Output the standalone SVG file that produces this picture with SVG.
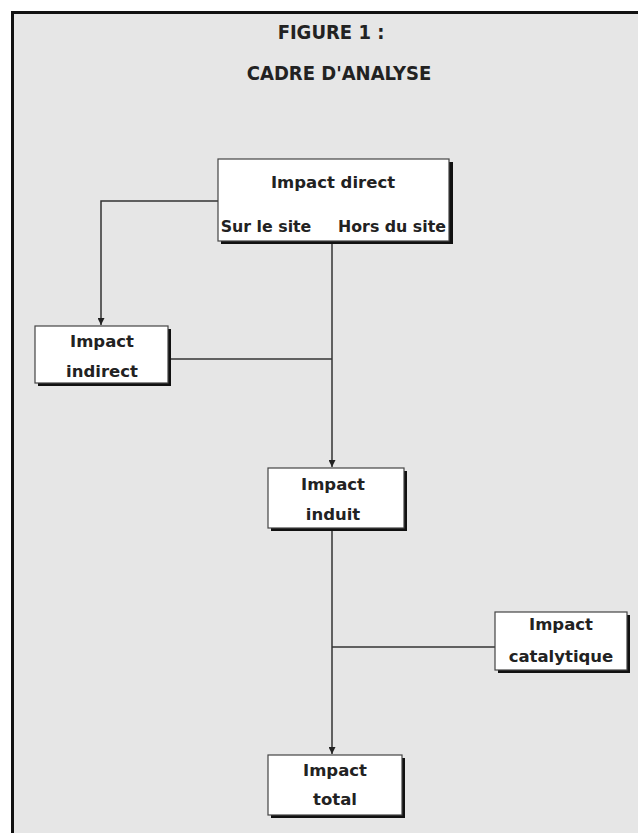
<svg xmlns="http://www.w3.org/2000/svg" width="638" height="833" viewBox="0 0 638 833">
<defs>
<marker id="arr" viewBox="0 0 10 10" refX="10" refY="5" markerWidth="7" markerHeight="7" markerUnits="userSpaceOnUse" orient="auto">
<path d="M0,0 L10,5 L0,10 z" fill="#222"/>
</marker>
</defs>
<style>
.frame{fill:#e6e6e6;stroke:#111;stroke-width:3}
.shadow{fill:#111}
.box{fill:#fff;stroke:#444;stroke-width:1.2}
.t{font-family:"DejaVu Sans",Verdana,sans-serif;font-weight:bold;fill:#222;text-anchor:middle}
.title{font-size:20px;font-stretch:condensed}
.lbl{font-size:16.5px}
.sub{font-size:15.8px}
.c{fill:none;stroke:#333;stroke-width:1.5}
</style>
<rect width="638" height="833" fill="#fff"/>
<rect class="frame" x="12.5" y="12.5" width="660" height="860"/>
<g id="title">
<text class="t title" x="331" y="39">FIGURE 1 :</text>
<text class="t title" x="339" y="80">CADRE D'ANALYSE</text>
</g>
<g id="connectors">
<path class="c" d="M218,201 H101 V325" marker-end="url(#arr)"/>
<path class="c" d="M332,244 V467" marker-end="url(#arr)"/>
<path class="c" d="M171,359 H332"/>
<path class="c" d="M332,531 V754" marker-end="url(#arr)"/>
<path class="c" d="M495,647 H332"/>
</g>
<g id="impact-direct">
<rect class="shadow" x="221" y="162" width="232" height="82"/>
<rect class="box" x="218" y="159" width="231" height="82"/>
<text class="t lbl" x="333" y="188">Impact direct</text>
<text class="t sub" x="266" y="232">Sur le site</text>
<text class="t sub" x="392" y="232">Hors du site</text>
</g>
<g id="impact-indirect">
<rect class="shadow" x="38" y="329" width="133" height="57"/>
<rect class="box" x="35" y="326" width="133" height="57"/>
<text class="t lbl" x="102" y="347">Impact</text>
<text class="t lbl" x="102" y="377">indirect</text>
</g>
<g id="impact-induit">
<rect class="shadow" x="271" y="471" width="136" height="60"/>
<rect class="box" x="268" y="468" width="136" height="60"/>
<text class="t lbl" x="333" y="490">Impact</text>
<text class="t lbl" x="333" y="520">induit</text>
</g>
<g id="impact-catalytique">
<rect class="shadow" x="498" y="615" width="132" height="58"/>
<rect class="box" x="495" y="612" width="132" height="58"/>
<text class="t lbl" x="561" y="630">Impact</text>
<text class="t lbl" x="561" y="662">catalytique</text>
</g>
<g id="impact-total">
<rect class="shadow" x="271" y="758" width="134" height="60"/>
<rect class="box" x="268" y="755" width="134" height="60"/>
<text class="t lbl" x="335" y="776">Impact</text>
<text class="t lbl" x="335" y="805">total</text>
</g>
</svg>
